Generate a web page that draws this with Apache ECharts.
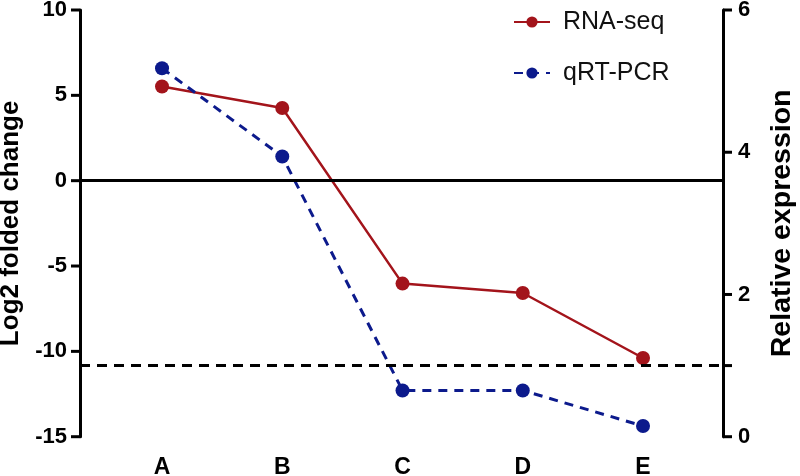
<!DOCTYPE html>
<html>
<head>
<meta charset="utf-8">
<script src="https://cdn.jsdelivr.net/npm/echarts@6/dist/echarts.min.js"></script>
<style>html,body{margin:0;padding:0;background:#fff}#c{width:800px;height:476px}</style>
</head>
<body>
<div id="c"></div>
<script>
const categories = ['A', 'B', 'C', 'D', 'E'];
const rnaSeq = [5.52, 4.26, -6.03, -6.58, -10.39];
const qrtPcr = [5.18, 3.94, 0.65, 0.65, 0.15];
const leftTicks = [-15, -10, -5, 0, 5, 10];
const rightTicks = [0, 2, 4, 6];
const rightTickMarks = [0, 1, 2, 4, 6];
const zeroLine = 0;
const referenceExpression = 1;

const FONT = 'Liberation Sans, Arial, sans-serif';
const RED = '#A3141B';
const BLUE = '#0C1A8C';

const X_MIN = 0.318;
const X_MAX = 5.665;
// categories are placed at positions 1..5 on the x value axis
const pos = i => i + 1;

function tickRenderer(dir, len) {
  return function (params, api) {
    const p = api.coord([api.value(0), api.value(1)]);
    return {
      type: 'line',
      shape: {x1: p[0], y1: p[1], x2: p[0] + dir * len, y2: p[1]},
      style: {stroke: '#000', lineWidth: 3}
    };
  };
}

const chart = echarts.init(document.getElementById('c'), null, {renderer: 'canvas'});
chart.setOption({
  animation: false,
  backgroundColor: '#fff',
  grid: {left: 80, right: 77, top: 10, bottom: 39.3, containLabel: false,
         outerBounds: {left: -300, right: -300, top: -300, bottom: -300}},
  legend: {
    orient: 'vertical',
    left: 508,
    top: 3,
    itemWidth: 36,
    itemHeight: 14,
    itemGap: 23,
    textStyle: {fontFamily: FONT, fontSize: 25, color: '#111', lineHeight: 28, padding: [0, 0, 0, 8]},
    data: ['RNA-seq', 'qRT-PCR']
  },
  xAxis: {
    type: 'value',
    min: X_MIN,
    max: X_MAX,
    axisLine: {show: false},
    axisTick: {show: false},
    splitLine: {show: false},
    axisLabel: {
      customValues: categories.map((c, i) => pos(i)),
      formatter: v => categories[Math.round(v) - 1],
      fontFamily: FONT, fontWeight: 'bold', fontSize: 23, color: '#000', margin: 19
    }
  },
  yAxis: [
    {
      type: 'value', position: 'left', min: -15, max: 10, interval: 5,
      name: 'Log2 folded change', nameLocation: 'middle', nameGap: 50, nameRotate: 90,
      nameTextStyle: {fontFamily: FONT, fontWeight: 'bold', fontSize: 26, color: '#000'},
      axisLine: {show: true, lineStyle: {color: '#000', width: 3}},
      axisTick: {show: false},
      axisLabel: {fontFamily: FONT, fontWeight: 'bold', fontSize: 22, color: '#000', margin: 13},
      splitLine: {show: false}
    },
    {
      type: 'value', position: 'right', min: 0, max: 6, interval: 2,
      name: 'Relative expression', nameLocation: 'middle', nameGap: 45, nameRotate: 90,
      nameTextStyle: {fontFamily: FONT, fontWeight: 'bold', fontSize: 28.5, color: '#000'},
      axisLine: {show: true, lineStyle: {color: '#000', width: 3}},
      axisTick: {show: false},
      axisLabel: {customValues: rightTicks, fontFamily: FONT, fontWeight: 'bold', fontSize: 22, color: '#000', margin: 15},
      splitLine: {show: false}
    }
  ],
  series: [
    {
      name: 'RNA-seq', type: 'line', yAxisIndex: 0,
      data: rnaSeq.map((v, i) => [pos(i), v]),
      symbol: 'circle', symbolSize: 14,
      itemStyle: {color: RED},
      lineStyle: {color: RED, width: 2.5},
      z: 3,
      markLine: {
        silent: true, symbol: 'none', label: {show: false},
        lineStyle: {color: '#000', width: 3, type: 'solid'},
        data: [{yAxis: zeroLine}]
      }
    },
    {
      name: 'qRT-PCR', type: 'line', yAxisIndex: 1,
      data: qrtPcr.map((v, i) => [pos(i), v]),
      symbol: 'circle', symbolSize: 14,
      itemStyle: {color: BLUE},
      lineStyle: {color: BLUE, width: 3, type: [9, 7]},
      z: 3,
      markLine: {
        silent: true, symbol: 'none', label: {show: false},
        lineStyle: {color: '#000', width: 3, type: [10, 7]},
        data: [{yAxis: referenceExpression}]
      }
    },
    {
      name: 'left-ticks', type: 'custom', yAxisIndex: 0, silent: true, clip: false, z: 5,
      data: leftTicks.map(v => [X_MIN, v]),
      renderItem: tickRenderer(-1, 9)
    },
    {
      name: 'right-ticks', type: 'custom', yAxisIndex: 1, silent: true, clip: false, z: 5,
      data: rightTickMarks.map(v => [X_MAX, v]),
      renderItem: tickRenderer(1, 9)
    }
  ]
});
</script>
</body>
</html>
